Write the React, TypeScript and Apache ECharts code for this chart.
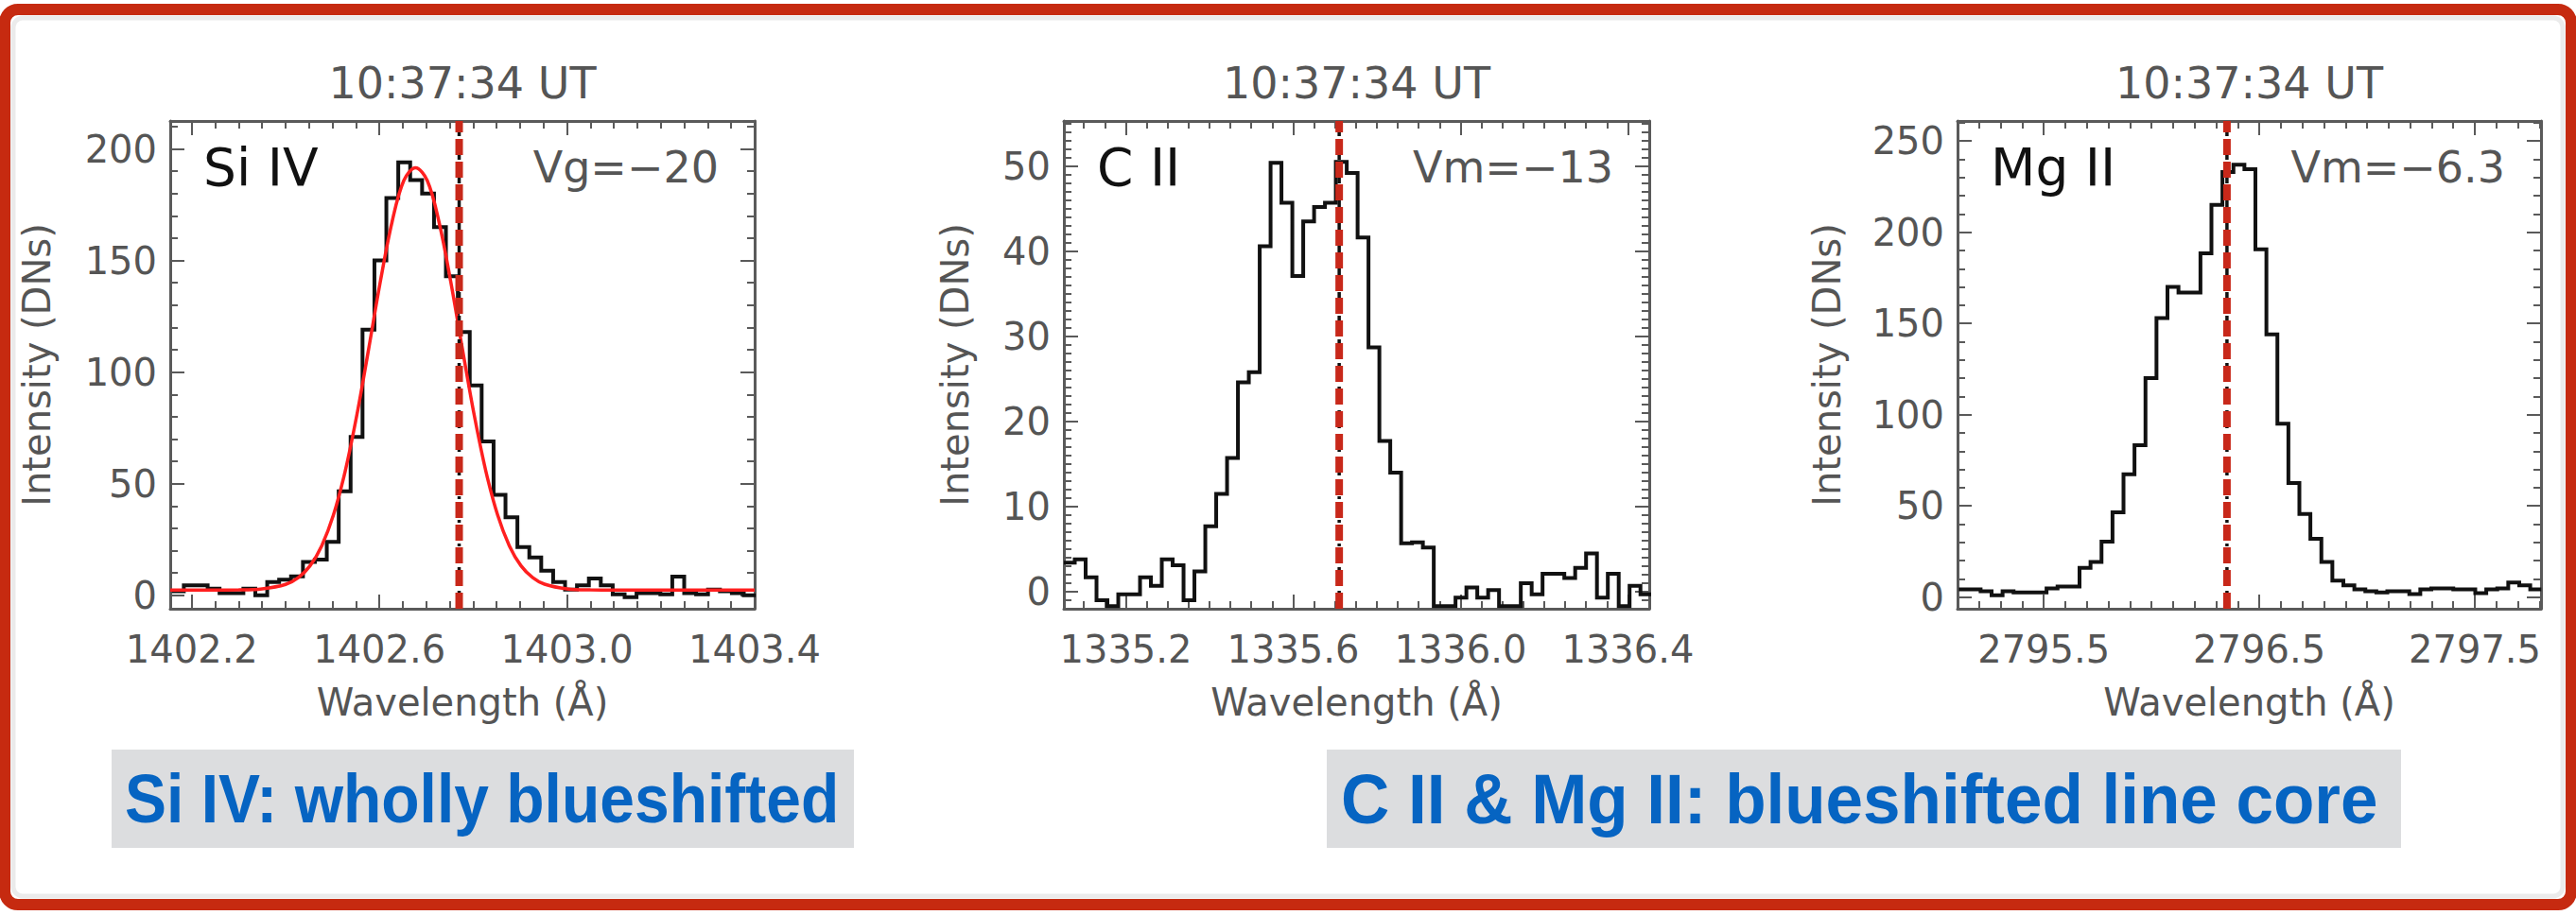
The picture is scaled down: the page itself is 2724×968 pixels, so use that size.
import React, { useEffect, useRef } from "react";
import * as echarts from "echarts";

// ---------- shared texts ----------
const TIME_LABEL = "10:37:34 UT";
const X_NAME = "Wavelength (Å)";
const Y_NAME = "Intensity (DNs)";
const NOTE_LEFT = "Si IV: wholly blueshifted";
const NOTE_RIGHT = "C II & Mg II: blueshifted line core";

// ---------- Si IV panel ----------
const siIon = "Si IV";
const siVelocity = "Vg=−20";
const siRest = 1402.77;
const siXRange = [1402.154, 1403.4];
const siYRange = [-6, 212.5];
const siXTicks = [1402.2, 1402.6, 1403.0, 1403.4];
const siYTicks = [0, 50, 100, 150, 200];
const siFirstEdge = 1402.1576;
const siBinWidth = 0.0254;
const siCounts = [
  1.8, 4.5, 4.5, 3, 1, 1, 3, 0, 6, 7, 8.5, 15, 16, 24, 46.6, 71, 119, 150, 178, 194,
  186, 180, 165, 143, 118, 94, 69, 45, 35, 21.6, 17, 11, 6, 2.6, 4.5, 7.6, 4.5, 0.5,
  -0.8, 1, 1, 0.5, 8.4, 1, 0.5, 2.6, 1.8, 1, 0,
];
const siFitWave = [
  1402.154, 1402.25, 1402.3, 1402.35, 1402.4, 1402.427, 1402.452, 1402.477, 1402.502,
  1402.527, 1402.552, 1402.577, 1402.602, 1402.627, 1402.652, 1402.677, 1402.702,
  1402.727, 1402.752, 1402.777, 1402.802, 1402.827, 1402.852, 1402.877, 1402.902,
  1402.927, 1402.952, 1403.0, 1403.05, 1403.1, 1403.2, 1403.3, 1403.4,
];
const siFitCounts = [
  2.4, 2.4, 2.45, 2.9, 4.9, 7.9, 13.2, 22.2, 36.0, 55.6, 80.9, 110.3, 140.6, 167.3,
  185.8, 191.5, 185.8, 167.3, 140.6, 110.3, 80.9, 55.6, 36.0, 22.2, 13.2, 7.9, 5.0,
  2.9, 2.45, 2.4, 2.4, 2.4, 2.4,
];

// ---------- C II panel ----------
const cIon = "C II";
const cVelocity = "Vm=−13";
const cRest = 1335.71;
const cXRange = [1335.052, 1336.451];
const cYRange = [-2, 55.3];
const cXTicks = [1335.2, 1335.6, 1336.0, 1336.4];
const cYTicks = [0, 10, 20, 30, 40, 50];
const cFirstEdge = 1335.052;
const cBinWidth = 0.026;
const cCounts = [
  3.4, 3.8, 1.7, -1, -1.7, -0.3, -0.3, 1.7, 0.7, 3.8, 3.1, -1, 2.4, 7.7, 11.5, 15.7,
  24.6, 25.8, 40.6, 50.4, 45.7, 37.1, 43.5, 45.2, 45.7, 50.5, 49.2, 41.6, 28.7, 17.7,
  14, 5.7, 5.8, 5.2, -1.7, -1.7, -0.7, 0.5, -0.7, 0.2, -1.7, -1.7, 1, -0.3, 2.1, 2.1,
  1.6, 2.8, 4.5, -0.7, 2.1, -1.7, 0.7, -0.3,
];

// ---------- Mg II panel ----------
const mgIon = "Mg II";
const mgVelocity = "Vm=−6.3";
const mgRest = 2796.35;
const mgXRange = [2795.1, 2797.807];
const mgYRange = [-6.4, 261];
const mgXTicks = [2795.5, 2796.5, 2797.5];
const mgYTicks = [0, 50, 100, 150, 200, 250];
const mgFirstEdge = 2795.105;
const mgBinWidth = 0.051;
const mgCounts = [
  4.2, 4.2, 3.2, 1, 3.2, 2.6, 2.6, 2.6, 4.8, 5.8, 5.8, 16, 19.2, 30.4, 46.5, 67.3, 83.3,
  120, 153, 170, 167, 167, 188.5, 215, 233, 237, 234.6, 190.7, 144, 95, 62.5, 45.5, 32,
  19.2, 9, 6.4, 4.2, 3.2, 2.6, 3.2, 3.2, 1.6, 4.2, 4.8, 4.8, 4.2, 4.2, 2.2, 4.2, 4.8,
  8, 6.4, 4.2,
];

// ---------- styling / layout ----------
const FONT = "DejaVu Sans";
const AXIS_COLOR = "#5a5a5a";
const TEXT_COLOR = "#555555";

const panels = [
  {
    ion: siIon, vel: siVelocity, rest: siRest, xr: siXRange, yr: siYRange,
    xt: siXTicks, yt: siYTicks, xMinorStep: 0.05, yMinorStep: 10,
    first: siFirstEdge, width: siBinWidth, counts: siCounts,
    fit: siFitWave.map((w, i) => [w, siFitCounts[i]]),
    grid: { left: 180, top: 128, width: 618, height: 516 },
    yNameX: 39,
  },
  {
    ion: cIon, vel: cVelocity, rest: cRest, xr: cXRange, yr: cYRange,
    xt: cXTicks, yt: cYTicks, xMinorStep: 0.05, yMinorStep: 1,
    first: cFirstEdge, width: cBinWidth, counts: cCounts, fit: null,
    grid: { left: 1125, top: 128, width: 619, height: 516 },
    yNameX: 1010,
  },
  {
    ion: mgIon, vel: mgVelocity, rest: mgRest, xr: mgXRange, yr: mgYRange,
    xt: mgXTicks, yt: mgYTicks, xMinorStep: 0.1, yMinorStep: 10,
    first: mgFirstEdge, width: mgBinWidth, counts: mgCounts, fit: null,
    grid: { left: 2070, top: 128, width: 617, height: 516 },
    yNameX: 1932,
  },
];

function stepsIn(lo: number, hi: number, step: number) {
  const out: number[] = [];
  const k0 = Math.ceil(lo / step - 1e-9);
  const k1 = Math.floor(hi / step + 1e-9);
  for (let k = k0; k <= k1; k++) out.push(+(k * step).toFixed(4));
  return out;
}

function histData(first: number, width: number, counts: number[]) {
  const pts = counts.map((v, i) => [+(first + i * width).toFixed(5), v]);
  pts.push([+(first + counts.length * width).toFixed(5), counts[counts.length - 1]]);
  return pts;
}

function buildOption() {
  const grids: any[] = [];
  const xAxes: any[] = [];
  const yAxes: any[] = [];
  const series: any[] = [];
  const graphics: any[] = [];

  panels.forEach((p, g) => {
    grids.push({ ...p.grid, containLabel: false, outerBoundsMode: "none" });
    const xMinor = stepsIn(p.xr[0], p.xr[1], p.xMinorStep);
    const yMinor = stepsIn(p.yr[0], p.yr[1], p.yMinorStep);
    const baseX = {
      type: "value", gridIndex: g, min: p.xr[0], max: p.xr[1],
      splitLine: { show: false }, silent: true,
    };
    const baseY = {
      type: "value", gridIndex: g, min: p.yr[0], max: p.yr[1],
      splitLine: { show: false }, silent: true,
    };
    const line = { show: true, onZero: false, lineStyle: { color: AXIS_COLOR, width: 3 } };
    const noLine = { show: false, onZero: false };
    const tickStyle = { color: AXIS_COLOR, width: 2 };
    const label = { fontSize: 40, fontFamily: FONT, color: TEXT_COLOR };
    xAxes.push({
      ...baseX, position: "bottom", axisLine: line,
      axisTick: { show: true, inside: true, length: 15, customValues: p.xt, lineStyle: tickStyle },
      axisLabel: { ...label, show: true, customValues: p.xt, margin: 23, formatter: (v: number) => Number(v).toFixed(1) },
    });
    xAxes.push({
      ...baseX, position: "bottom", axisLine: noLine,
      axisTick: { show: true, inside: true, length: 8, customValues: xMinor, lineStyle: tickStyle },
      axisLabel: { show: false },
    });
    xAxes.push({
      ...baseX, position: "top", axisLine: line,
      axisTick: { show: true, inside: true, length: 15, customValues: p.xt, lineStyle: tickStyle },
      axisLabel: { show: false },
    });
    xAxes.push({
      ...baseX, position: "top", axisLine: noLine,
      axisTick: { show: true, inside: true, length: 8, customValues: xMinor, lineStyle: tickStyle },
      axisLabel: { show: false },
    });
    yAxes.push({
      ...baseY, position: "left", axisLine: line,
      axisTick: { show: true, inside: true, length: 15, customValues: p.yt, lineStyle: tickStyle },
      axisLabel: { ...label, show: true, customValues: p.yt, margin: 14, formatter: (v: number) => String(v) },
    });
    yAxes.push({
      ...baseY, position: "left", axisLine: noLine,
      axisTick: { show: true, inside: true, length: 8, customValues: yMinor, lineStyle: tickStyle },
      axisLabel: { show: false },
    });
    yAxes.push({
      ...baseY, position: "right", axisLine: line,
      axisTick: { show: true, inside: true, length: 15, customValues: p.yt, lineStyle: tickStyle },
      axisLabel: { show: false },
    });
    yAxes.push({
      ...baseY, position: "right", axisLine: noLine,
      axisTick: { show: true, inside: true, length: 8, customValues: yMinor, lineStyle: tickStyle },
      axisLabel: { show: false },
    });

    const ax = { xAxisIndex: 4 * g, yAxisIndex: 4 * g };
    series.push({
      type: "line", ...ax, step: "end", symbol: "none", silent: true, clip: true,
      data: histData(p.first, p.width, p.counts),
      lineStyle: { color: "#111111", width: 4, join: "miter" }, z: 3,
    });
    if (p.fit) {
      series.push({
        type: "line", ...ax, smooth: 0.35, symbol: "none", silent: true, clip: true,
        data: p.fit, lineStyle: { color: "#ff1f1f", width: 3.5 }, z: 4,
      });
    }
    series.push({
      type: "line", ...ax, symbol: "none", silent: true,
      data: [[p.rest, p.yr[0]], [p.rest, p.yr[1]]],
      lineStyle: { color: "#111111", width: 3.5, type: [10, 6, 3, 6] }, z: 5,
    });
    series.push({
      type: "line", ...ax, symbol: "none", silent: true,
      data: [[p.rest, p.yr[0]], [p.rest, p.yr[1]]],
      lineStyle: { color: "#c8281a", width: 8, type: [17, 7] }, z: 6,
    });

    const cx = p.grid.left + p.grid.width / 2;
    const right = p.grid.left + p.grid.width;
    graphics.push(
      { type: "text", x: cx, y: 88, style: { text: TIME_LABEL, fontSize: 46, fontFamily: FONT, fill: TEXT_COLOR, align: "center", verticalAlign: "middle" } },
      { type: "text", x: p.grid.left + 35, y: 177, style: { text: p.ion, fontSize: 55, fontFamily: FONT, fill: "#111111", align: "left", verticalAlign: "middle" } },
      { type: "text", x: right - 38, y: 177, style: { text: p.vel, fontSize: 46, fontFamily: FONT, fill: TEXT_COLOR, align: "right", verticalAlign: "middle" } },
      { type: "text", x: cx, y: 743, style: { text: X_NAME, fontSize: 40, fontFamily: FONT, fill: TEXT_COLOR, align: "center", verticalAlign: "middle" } },
      { type: "text", x: p.yNameX, y: p.grid.top + p.grid.height / 2, rotation: Math.PI / 2, style: { text: Y_NAME, fontSize: 40, fontFamily: FONT, fill: TEXT_COLOR, align: "center", verticalAlign: "middle" } },
    );
  });

  graphics.push(
    { type: "rect", shape: { x: 14, y: 19, width: 2696, height: 929, r: 10 }, style: { fill: "none", stroke: "rgba(0,0,0,0.08)", lineWidth: 5 } },
    { type: "rect", shape: { x: 5, y: 10, width: 2714, height: 947, r: 14 }, style: { fill: "none", stroke: "#c62a10", lineWidth: 12 } },
    { type: "rect", shape: { x: 118, y: 793, width: 785, height: 104 }, style: { fill: "#dcdddf" } },
    { type: "rect", shape: { x: 1403, y: 793, width: 1136, height: 104 }, style: { fill: "#dcdddf" } },
    { type: "text", x: 132, y: 845, scaleY: 1.1, style: { text: NOTE_LEFT, fontSize: 66, fontWeight: "bold", fontFamily: "Liberation Sans", fill: "#0664c2", align: "left", verticalAlign: "middle" } },
    { type: "text", x: 1418, y: 845, scaleY: 1.05, style: { text: NOTE_RIGHT, fontSize: 71, fontWeight: "bold", fontFamily: "Liberation Sans", fill: "#0664c2", align: "left", verticalAlign: "middle" } },
  );

  return {
    animation: false,
    backgroundColor: "#ffffff",
    grid: grids,
    xAxis: xAxes,
    yAxis: yAxes,
    series,
    graphic: { elements: graphics },
  };
}

export default function App() {
  const ref = useRef<HTMLDivElement>(null);
  useEffect(() => {
    document.body.style.margin = "0";
    const chart = echarts.init(ref.current as HTMLDivElement, null, { renderer: "svg" });
    chart.setOption(buildOption() as any);
    return () => chart.dispose();
  }, []);
  return (
    <div
      ref={ref}
      style={{ position: "absolute", left: 0, top: 0, width: 2724, height: 968, background: "#ffffff" }}
    />
  );
}
